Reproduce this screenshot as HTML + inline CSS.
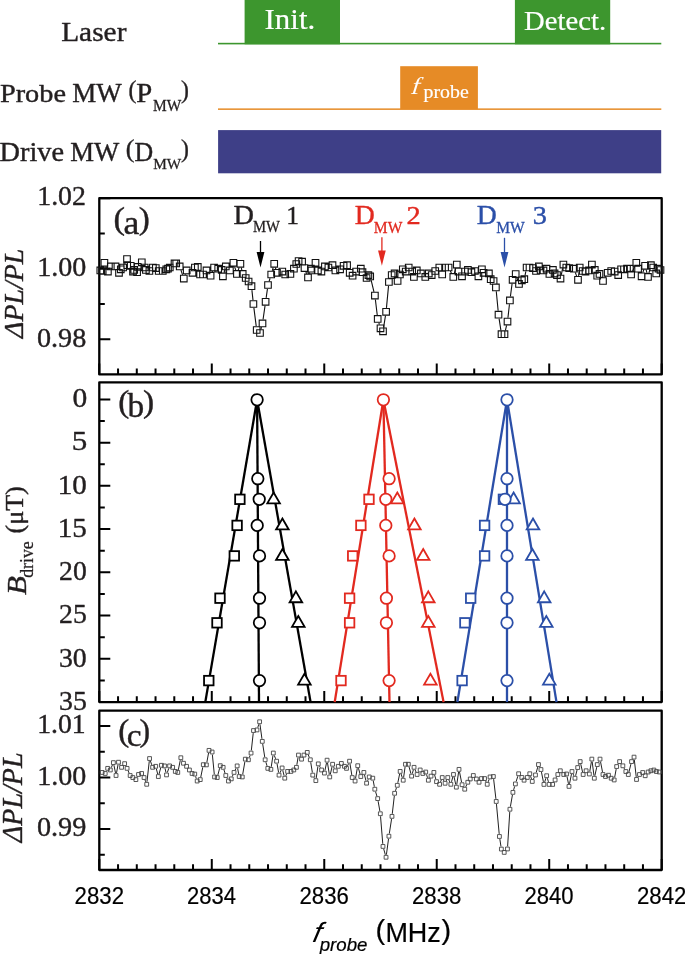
<!DOCTYPE html>
<html><head><meta charset="utf-8"><style>
html,body{margin:0;padding:0;background:#fff;}
svg{display:block;will-change:transform;}
</style></head><body>
<svg width="685" height="954" viewBox="0 0 685 954">
<rect width="685" height="954" fill="#fff"/>
<rect x="244.6" y="0" width="95.4" height="44.3" fill="#3d962e"/>
<rect x="514.9" y="0" width="95.3" height="44.3" fill="#3d962e"/>
<rect x="218" y="42.8" width="443.3" height="1.6" fill="#3d962e"/>
<rect x="400.2" y="66.2" width="77.7" height="43" fill="#e68b26"/>
<rect x="218" y="108.4" width="443.3" height="1.5" fill="#e68b26"/>
<rect x="218.1" y="130.1" width="443.1" height="43.2" fill="#3e3f87"/>
<text transform="translate(264.58,28.90) scale(1.0829,1)" font-family="Liberation Serif" font-style="normal" font-size="28.55" fill="#fff" stroke="#fff" stroke-width="0.2" stroke-linejoin="round">Init.</text>
<text transform="translate(524.07,30.40) scale(1.0220,1)" font-family="Liberation Serif" font-style="normal" font-size="28.10" fill="#fff" stroke="#fff" stroke-width="0.2" stroke-linejoin="round">Detect.</text>
<text transform="translate(409.80,94.10) scale(1.0834,1) skewX(-16)" font-family="Liberation Serif" font-style="normal" font-size="24.29" fill="#fff">f</text>
<text transform="translate(423.58,98.10) scale(1.0437,1)" font-family="Liberation Serif" font-style="normal" font-size="19.02" fill="#fff" stroke="#fff" stroke-width="0.2" stroke-linejoin="round">probe</text>
<text transform="translate(61.15,40.50) scale(1.0408,1)" font-family="Liberation Serif" font-style="normal" font-size="28.25" fill="#231f20" stroke="#231f20" stroke-width="0.4" stroke-linejoin="round">Laser</text>
<text transform="translate(-0.12,102.30) scale(1.1044,1)" font-family="Liberation Serif" font-style="normal" font-size="25.65" fill="#231f20" stroke="#231f20" stroke-width="0.4" stroke-linejoin="round">Probe</text>
<text transform="translate(72.22,102.30) scale(0.9920,1)" font-family="Liberation Serif" font-style="normal" font-size="27.18" fill="#231f20" stroke="#231f20" stroke-width="0.4" stroke-linejoin="round">MW</text>
<text transform="translate(128.56,98.44) scale(0.9500,1)" font-family="Liberation Serif" font-style="normal" font-size="25.00" fill="#231f20" stroke="#231f20" stroke-width="0.4" stroke-linejoin="round">(</text>
<text transform="translate(136.37,102.20) scale(1.0509,1)" font-family="Liberation Serif" font-style="normal" font-size="27.34" fill="#231f20" stroke="#231f20" stroke-width="0.4" stroke-linejoin="round">P</text>
<text transform="translate(152.96,110.50) scale(0.9619,1)" font-family="Liberation Serif" font-style="normal" font-size="16.04" fill="#231f20" stroke="#231f20" stroke-width="0.27999999999999997" stroke-linejoin="round">MW</text>
<text transform="translate(180.93,98.44) scale(0.9500,1)" font-family="Liberation Serif" font-style="normal" font-size="25.00" fill="#231f20" stroke="#231f20" stroke-width="0.4" stroke-linejoin="round">)</text>
<text transform="translate(-0.52,160.60) scale(1.0266,1)" font-family="Liberation Serif" font-style="normal" font-size="27.64" fill="#231f20" stroke="#231f20" stroke-width="0.4" stroke-linejoin="round">Drive</text>
<text transform="translate(70.13,160.60) scale(0.9729,1)" font-family="Liberation Serif" font-style="normal" font-size="27.49" fill="#231f20" stroke="#231f20" stroke-width="0.4" stroke-linejoin="round">MW</text>
<text transform="translate(125.85,157.25) scale(1.0435,1)" font-family="Liberation Serif" font-style="normal" font-size="25.00" fill="#231f20" stroke="#231f20" stroke-width="0.4" stroke-linejoin="round">(</text>
<text transform="translate(134.45,160.50) scale(0.9679,1)" font-family="Liberation Serif" font-style="normal" font-size="26.73" fill="#231f20" stroke="#231f20" stroke-width="0.4" stroke-linejoin="round">D</text>
<text transform="translate(153.16,169.20) scale(0.9831,1)" font-family="Liberation Serif" font-style="normal" font-size="15.58" fill="#231f20" stroke="#231f20" stroke-width="0.27999999999999997" stroke-linejoin="round">MW</text>
<text transform="translate(180.93,157.25) scale(0.9500,1)" font-family="Liberation Serif" font-style="normal" font-size="25.00" fill="#231f20" stroke="#231f20" stroke-width="0.4" stroke-linejoin="round">)</text>
<rect x="99.3" y="198.2" width="562.40" height="176.20" fill="none" stroke="#000" stroke-width="2.3" stroke-linejoin="round"/>
<path d="M99.30,374.4V363.4M118.05,374.4V368.59999999999997M136.79,374.4V368.59999999999997M155.54,374.4V368.59999999999997M174.29,374.4V368.59999999999997M193.03,374.4V368.59999999999997M211.78,374.4V363.4M230.53,374.4V368.59999999999997M249.27,374.4V368.59999999999997M268.02,374.4V368.59999999999997M286.77,374.4V368.59999999999997M305.51,374.4V368.59999999999997M324.26,374.4V363.4M343.01,374.4V368.59999999999997M361.75,374.4V368.59999999999997M380.50,374.4V368.59999999999997M399.25,374.4V368.59999999999997M417.99,374.4V368.59999999999997M436.74,374.4V363.4M455.49,374.4V368.59999999999997M474.23,374.4V368.59999999999997M492.98,374.4V368.59999999999997M511.73,374.4V368.59999999999997M530.47,374.4V368.59999999999997M549.22,374.4V363.4M567.97,374.4V368.59999999999997M586.71,374.4V368.59999999999997M605.46,374.4V368.59999999999997M624.21,374.4V368.59999999999997M642.95,374.4V368.59999999999997M661.70,374.4V363.4" stroke="#000" stroke-width="2.0" fill="none"/>
<rect x="99.3" y="382.3" width="562.40" height="319.80" fill="none" stroke="#000" stroke-width="2.3" stroke-linejoin="round"/>
<path d="M99.30,702.1V691.1M118.05,702.1V696.3000000000001M136.79,702.1V696.3000000000001M155.54,702.1V696.3000000000001M174.29,702.1V696.3000000000001M193.03,702.1V696.3000000000001M211.78,702.1V691.1M230.53,702.1V696.3000000000001M249.27,702.1V696.3000000000001M268.02,702.1V696.3000000000001M286.77,702.1V696.3000000000001M305.51,702.1V696.3000000000001M324.26,702.1V691.1M343.01,702.1V696.3000000000001M361.75,702.1V696.3000000000001M380.50,702.1V696.3000000000001M399.25,702.1V696.3000000000001M417.99,702.1V696.3000000000001M436.74,702.1V691.1M455.49,702.1V696.3000000000001M474.23,702.1V696.3000000000001M492.98,702.1V696.3000000000001M511.73,702.1V696.3000000000001M530.47,702.1V696.3000000000001M549.22,702.1V691.1M567.97,702.1V696.3000000000001M586.71,702.1V696.3000000000001M605.46,702.1V696.3000000000001M624.21,702.1V696.3000000000001M642.95,702.1V696.3000000000001M661.70,702.1V691.1" stroke="#000" stroke-width="2.0" fill="none"/>
<rect x="99.3" y="710.7" width="562.40" height="159.30" fill="none" stroke="#000" stroke-width="2.3" stroke-linejoin="round"/>
<path d="M99.30,870.0V859.0M118.05,870.0V864.2M136.79,870.0V864.2M155.54,870.0V864.2M174.29,870.0V864.2M193.03,870.0V864.2M211.78,870.0V859.0M230.53,870.0V864.2M249.27,870.0V864.2M268.02,870.0V864.2M286.77,870.0V864.2M305.51,870.0V864.2M324.26,870.0V859.0M343.01,870.0V864.2M361.75,870.0V864.2M380.50,870.0V864.2M399.25,870.0V864.2M417.99,870.0V864.2M436.74,870.0V859.0M455.49,870.0V864.2M474.23,870.0V864.2M492.98,870.0V864.2M511.73,870.0V864.2M530.47,870.0V864.2M549.22,870.0V859.0M567.97,870.0V864.2M586.71,870.0V864.2M605.46,870.0V864.2M624.21,870.0V864.2M642.95,870.0V864.2M661.70,870.0V859.0" stroke="#000" stroke-width="2.0" fill="none"/>
<path d="M99.3,198.20H110.3M99.3,233.44H104.8M99.3,268.68H110.3M99.3,303.92H104.8M99.3,339.16H110.3" stroke="#000" stroke-width="2.0" fill="none"/>
<text transform="translate(37.26,205.40) scale(1.0571,1)" font-family="Liberation Serif" font-style="normal" font-size="26.31" fill="#231f20" stroke="#231f20" stroke-width="0.4" stroke-linejoin="round">1.02</text>
<text transform="translate(37.24,276.30) scale(1.0351,1)" font-family="Liberation Serif" font-style="normal" font-size="27.07" fill="#231f20" stroke="#231f20" stroke-width="0.4" stroke-linejoin="round">1.00</text>
<text transform="translate(36.93,346.50) scale(1.0304,1)" font-family="Liberation Serif" font-style="normal" font-size="27.37" fill="#231f20" stroke="#231f20" stroke-width="0.4" stroke-linejoin="round">0.98</text>
<path d="M99.3,399.40H110.3M99.3,421.01H104.8M99.3,442.63H110.3M99.3,464.24H104.8M99.3,485.86H110.3M99.3,507.47H104.8M99.3,529.09H110.3M99.3,550.70H104.8M99.3,572.31H110.3M99.3,593.93H104.8M99.3,615.54H110.3M99.3,637.16H104.8M99.3,658.77H110.3M99.3,680.39H104.8M99.3,702.00H110.3" stroke="#000" stroke-width="2.0" fill="none"/>
<text transform="translate(72.38,407.20) scale(1.0897,1)" font-family="Liberation Serif" font-style="normal" font-size="27.07" fill="#231f20" stroke="#231f20" stroke-width="0.4" stroke-linejoin="round">0</text>
<text transform="translate(71.70,450.43) scale(1.1288,1)" font-family="Liberation Serif" font-style="normal" font-size="27.49" fill="#231f20" stroke="#231f20" stroke-width="0.4" stroke-linejoin="round">5</text>
<text transform="translate(57.75,493.66) scale(1.0737,1)" font-family="Liberation Serif" font-style="normal" font-size="27.07" fill="#231f20" stroke="#231f20" stroke-width="0.4" stroke-linejoin="round">10</text>
<text transform="translate(57.74,536.89) scale(1.0670,1)" font-family="Liberation Serif" font-style="normal" font-size="27.27" fill="#231f20" stroke="#231f20" stroke-width="0.4" stroke-linejoin="round">15</text>
<text transform="translate(59.08,580.11) scale(1.0223,1)" font-family="Liberation Serif" font-style="normal" font-size="27.07" fill="#231f20" stroke="#231f20" stroke-width="0.4" stroke-linejoin="round">20</text>
<text transform="translate(59.08,623.34) scale(1.0189,1)" font-family="Liberation Serif" font-style="normal" font-size="27.19" fill="#231f20" stroke="#231f20" stroke-width="0.4" stroke-linejoin="round">25</text>
<text transform="translate(58.97,666.57) scale(1.0267,1)" font-family="Liberation Serif" font-style="normal" font-size="27.07" fill="#231f20" stroke="#231f20" stroke-width="0.4" stroke-linejoin="round">30</text>
<text transform="translate(58.97,709.80) scale(1.0232,1)" font-family="Liberation Serif" font-style="normal" font-size="27.19" fill="#231f20" stroke="#231f20" stroke-width="0.4" stroke-linejoin="round">35</text>
<path d="M99.3,725.90H110.3M99.3,751.65H104.8M99.3,777.40H110.3M99.3,803.15H104.8M99.3,828.90H110.3M99.3,854.65H104.8" stroke="#000" stroke-width="2.0" fill="none"/>
<text transform="translate(37.27,732.70) scale(1.0331,1)" font-family="Liberation Serif" font-style="normal" font-size="26.77" fill="#231f20" stroke="#231f20" stroke-width="0.4" stroke-linejoin="round">1.01</text>
<text transform="translate(37.24,784.70) scale(1.0294,1)" font-family="Liberation Serif" font-style="normal" font-size="27.22" fill="#231f20" stroke="#231f20" stroke-width="0.4" stroke-linejoin="round">1.00</text>
<text transform="translate(36.92,836.30) scale(1.0322,1)" font-family="Liberation Serif" font-style="normal" font-size="27.37" fill="#231f20" stroke="#231f20" stroke-width="0.4" stroke-linejoin="round">0.99</text>
<text transform="translate(74.58,904.20) scale(0.9347,1)" font-family="Liberation Sans" font-style="normal" font-size="23.77" fill="#000" stroke="#000" stroke-width="0.2" stroke-linejoin="round">2832</text>
<text transform="translate(187.07,904.20) scale(0.9256,1)" font-family="Liberation Sans" font-style="normal" font-size="23.77" fill="#000" stroke="#000" stroke-width="0.2" stroke-linejoin="round">2834</text>
<text transform="translate(299.55,904.20) scale(0.9319,1)" font-family="Liberation Sans" font-style="normal" font-size="23.77" fill="#000" stroke="#000" stroke-width="0.2" stroke-linejoin="round">2836</text>
<text transform="translate(412.03,904.20) scale(0.9317,1)" font-family="Liberation Sans" font-style="normal" font-size="23.77" fill="#000" stroke="#000" stroke-width="0.2" stroke-linejoin="round">2838</text>
<text transform="translate(524.51,904.20) scale(0.9298,1)" font-family="Liberation Sans" font-style="normal" font-size="23.77" fill="#000" stroke="#000" stroke-width="0.2" stroke-linejoin="round">2840</text>
<text transform="translate(636.98,904.20) scale(0.9347,1)" font-family="Liberation Sans" font-style="normal" font-size="23.77" fill="#000" stroke="#000" stroke-width="0.2" stroke-linejoin="round">2842</text>
<text transform="translate(311.72,942.40) scale(1.0390,1) skewX(-12)" font-family="Liberation Sans" font-style="italic" font-size="27.88" fill="#000">f</text>
<text transform="translate(319.76,950.80) scale(0.9799,1)" font-family="Liberation Sans" font-style="italic" font-size="19.04" fill="#000" stroke="#000" stroke-width="0.2" stroke-linejoin="round">probe</text>
<text transform="translate(375.40,939.15) scale(1.0599,1)" font-family="Liberation Sans" font-style="normal" font-size="27.40" fill="#000" stroke="#000" stroke-width="0.2" stroke-linejoin="round">(</text>
<text transform="translate(385.39,942.00) scale(0.9619,1)" font-family="Liberation Sans" font-style="normal" font-size="28.05" fill="#000" stroke="#000" stroke-width="0.2" stroke-linejoin="round">MHz</text>
<text transform="translate(441.53,939.15) scale(1.0599,1)" font-family="Liberation Sans" font-style="normal" font-size="27.40" fill="#000" stroke="#000" stroke-width="0.2" stroke-linejoin="round">)</text>
<text transform="rotate(-90) translate(-337.88,23.30) scale(1.0447,1)" font-family="Liberation Serif" font-style="italic" font-size="26.66" fill="#231f20" stroke="#231f20" stroke-width="0.4" stroke-linejoin="round">ΔPL/PL</text>
<text transform="rotate(-90) translate(-842.17,22.40) scale(0.9847,1)" font-family="Liberation Serif" font-style="italic" font-size="28.48" fill="#231f20" stroke="#231f20" stroke-width="0.4" stroke-linejoin="round">ΔPL/PL</text>
<text transform="rotate(-90) translate(-594.99,26.40) scale(1.1050,1)" font-family="Liberation Serif" font-style="italic" font-size="27.95" fill="#231f20" stroke="#231f20" stroke-width="0.4" stroke-linejoin="round">B</text>
<text transform="rotate(-90) translate(-577.74,33.00) scale(0.9326,1)" font-family="Liberation Serif" font-style="normal" font-size="19.02" fill="#231f20" stroke="#231f20" stroke-width="0.27999999999999997" stroke-linejoin="round">drive</text>
<text transform="rotate(-90) translate(-533.55,22.51) scale(1.0416,1)" font-family="Liberation Serif" font-style="normal" font-size="25.10" fill="#231f20" stroke="#231f20" stroke-width="0.4" stroke-linejoin="round">(μT)</text>
<text transform="translate(113.38,228.89) scale(1.1036,1)" font-family="Liberation Serif" font-style="normal" font-size="31.40" fill="#231f20" stroke="#231f20" stroke-width="0.4" stroke-linejoin="round">(</text>
<text transform="translate(123.55,233.60) scale(1.0601,1)" font-family="Liberation Serif" font-style="normal" font-size="33.67" fill="#231f20" stroke="#231f20" stroke-width="0.4" stroke-linejoin="round">a</text>
<text transform="translate(138.83,228.89) scale(1.0540,1)" font-family="Liberation Serif" font-style="normal" font-size="31.40" fill="#231f20" stroke="#231f20" stroke-width="0.4" stroke-linejoin="round">)</text>
<text transform="translate(118.15,412.09) scale(1.0540,1)" font-family="Liberation Serif" font-style="normal" font-size="31.40" fill="#231f20" stroke="#231f20" stroke-width="0.4" stroke-linejoin="round">(</text>
<text transform="translate(127.50,416.60) scale(1.0191,1)" font-family="Liberation Serif" font-style="normal" font-size="32.72" fill="#231f20" stroke="#231f20" stroke-width="0.4" stroke-linejoin="round">b</text>
<text transform="translate(143.12,412.09) scale(1.0664,1)" font-family="Liberation Serif" font-style="normal" font-size="31.40" fill="#231f20" stroke="#231f20" stroke-width="0.4" stroke-linejoin="round">)</text>
<text transform="translate(118.15,741.49) scale(1.0540,1)" font-family="Liberation Serif" font-style="normal" font-size="31.40" fill="#231f20" stroke="#231f20" stroke-width="0.4" stroke-linejoin="round">(</text>
<text transform="translate(126.83,745.90) scale(1.0402,1)" font-family="Liberation Serif" font-style="normal" font-size="32.05" fill="#231f20" stroke="#231f20" stroke-width="0.4" stroke-linejoin="round">c</text>
<text transform="translate(139.57,741.49) scale(1.0168,1)" font-family="Liberation Serif" font-style="normal" font-size="31.40" fill="#231f20" stroke="#231f20" stroke-width="0.4" stroke-linejoin="round">)</text>
<text transform="translate(233.48,223.90) scale(1.0417,1)" font-family="Liberation Serif" font-style="normal" font-size="27.18" fill="#231f20" stroke="#231f20" stroke-width="0.4" stroke-linejoin="round">D</text>
<text transform="translate(252.98,232.10) scale(0.9169,1)" font-family="Liberation Serif" font-style="normal" font-size="16.04" fill="#231f20" stroke="#231f20" stroke-width="0.27999999999999997" stroke-linejoin="round">MW</text>
<text transform="translate(286.35,223.90) scale(1.0106,1)" font-family="Liberation Serif" font-style="normal" font-size="25.30" fill="#231f20" stroke="#231f20" stroke-width="0.4" stroke-linejoin="round">1</text>
<text transform="translate(354.80,224.20) scale(1.0022,1)" font-family="Liberation Serif" font-style="normal" font-size="27.64" fill="#e2291f" stroke="#e2291f" stroke-width="0.4" stroke-linejoin="round">D</text>
<text transform="translate(373.85,232.50) scale(0.9333,1)" font-family="Liberation Serif" font-style="normal" font-size="16.65" fill="#e2291f" stroke="#e2291f" stroke-width="0.27999999999999997" stroke-linejoin="round">MW</text>
<text transform="translate(406.55,224.20) scale(1.1076,1)" font-family="Liberation Serif" font-style="normal" font-size="25.68" fill="#e2291f" stroke="#e2291f" stroke-width="0.4" stroke-linejoin="round">2</text>
<text transform="translate(476.80,224.20) scale(1.0022,1)" font-family="Liberation Serif" font-style="normal" font-size="27.64" fill="#2b4fa8" stroke="#2b4fa8" stroke-width="0.4" stroke-linejoin="round">D</text>
<text transform="translate(496.15,232.50) scale(0.9366,1)" font-family="Liberation Serif" font-style="normal" font-size="16.65" fill="#2b4fa8" stroke="#2b4fa8" stroke-width="0.27999999999999997" stroke-linejoin="round">MW</text>
<text transform="translate(532.64,224.20) scale(1.1031,1)" font-family="Liberation Serif" font-style="normal" font-size="25.68" fill="#2b4fa8" stroke="#2b4fa8" stroke-width="0.4" stroke-linejoin="round">3</text>
<line x1="260.5" y1="241.0" x2="260.5" y2="253.39999999999998" stroke="#000" stroke-width="1.3"/>
<path d="M256.65,252.10 L264.35,252.10 L260.5,267.4 Z" fill="#000"/>
<line x1="381.9" y1="237.3" x2="381.9" y2="251.7" stroke="#e2291f" stroke-width="1.3"/>
<path d="M378.05,250.40 L385.75,250.40 L381.9,265.7 Z" fill="#e2291f"/>
<line x1="504.5" y1="237.8" x2="504.5" y2="253.39999999999998" stroke="#2b4fa8" stroke-width="1.3"/>
<path d="M500.65,252.10 L508.35,252.10 L504.5,267.4 Z" fill="#2b4fa8"/>
<line x1="257.1" y1="399.8" x2="205.3" y2="702.1" stroke="#000" stroke-width="2.3" />
<line x1="257.1" y1="399.8" x2="259.0" y2="702.1" stroke="#000" stroke-width="2.3" />
<line x1="257.1" y1="399.8" x2="310.6" y2="702.1" stroke="#000" stroke-width="2.3" />
<line x1="383.4" y1="399.8" x2="334.7" y2="702.1" stroke="#e2291f" stroke-width="2.3" />
<line x1="383.4" y1="399.8" x2="389.5" y2="702.1" stroke="#e2291f" stroke-width="2.3" />
<line x1="383.4" y1="399.8" x2="443.6" y2="702.1" stroke="#e2291f" stroke-width="2.3" />
<line x1="507.0" y1="399.8" x2="457.4" y2="702.1" stroke="#2b4fa8" stroke-width="2.3" />
<line x1="507.0" y1="399.8" x2="507.0" y2="702.1" stroke="#2b4fa8" stroke-width="2.3" />
<line x1="507.0" y1="399.8" x2="556.5" y2="702.1" stroke="#2b4fa8" stroke-width="2.3" />
<rect x="235.15" y="494.55" width="9.5" height="9.5" fill="#fff" stroke="#000" stroke-width="1.8"/>
<rect x="232.35" y="520.65" width="9.5" height="9.5" fill="#fff" stroke="#000" stroke-width="1.8"/>
<rect x="229.55" y="551.15" width="9.5" height="9.5" fill="#fff" stroke="#000" stroke-width="1.8"/>
<rect x="215.25" y="593.45" width="9.5" height="9.5" fill="#fff" stroke="#000" stroke-width="1.8"/>
<rect x="212.25" y="618.05" width="9.5" height="9.5" fill="#fff" stroke="#000" stroke-width="1.8"/>
<rect x="204.05" y="675.85" width="9.5" height="9.5" fill="#fff" stroke="#000" stroke-width="1.8"/>
<path d="M273.60,492.45 L279.90,503.35 L267.30,503.35 Z" fill="#fff" stroke="#000" stroke-width="1.8" stroke-linejoin="miter"/>
<path d="M282.40,518.55 L288.70,529.45 L276.10,529.45 Z" fill="#fff" stroke="#000" stroke-width="1.8" stroke-linejoin="miter"/>
<path d="M282.40,549.05 L288.70,559.95 L276.10,559.95 Z" fill="#fff" stroke="#000" stroke-width="1.8" stroke-linejoin="miter"/>
<path d="M295.90,591.35 L302.20,602.25 L289.60,602.25 Z" fill="#fff" stroke="#000" stroke-width="1.8" stroke-linejoin="miter"/>
<path d="M298.30,615.95 L304.60,626.85 L292.00,626.85 Z" fill="#fff" stroke="#000" stroke-width="1.8" stroke-linejoin="miter"/>
<path d="M304.40,673.75 L310.70,684.65 L298.10,684.65 Z" fill="#fff" stroke="#000" stroke-width="1.8" stroke-linejoin="miter"/>
<circle cx="257.1" cy="399.8" r="5.75" fill="#fff" stroke="#000" stroke-width="1.75"/>
<circle cx="257.8" cy="478.7" r="5.75" fill="#fff" stroke="#000" stroke-width="1.75"/>
<circle cx="259.2" cy="499.3" r="5.75" fill="#fff" stroke="#000" stroke-width="1.75"/>
<circle cx="257.2" cy="525.4" r="5.75" fill="#fff" stroke="#000" stroke-width="1.75"/>
<circle cx="259.5" cy="555.9" r="5.75" fill="#fff" stroke="#000" stroke-width="1.75"/>
<circle cx="259.5" cy="598.2" r="5.75" fill="#fff" stroke="#000" stroke-width="1.75"/>
<circle cx="259.5" cy="622.8" r="5.75" fill="#fff" stroke="#000" stroke-width="1.75"/>
<circle cx="259.5" cy="680.6" r="5.75" fill="#fff" stroke="#000" stroke-width="1.75"/>
<rect x="364.25" y="494.55" width="9.5" height="9.5" fill="#fff" stroke="#e2291f" stroke-width="1.8"/>
<rect x="356.15" y="520.65" width="9.5" height="9.5" fill="#fff" stroke="#e2291f" stroke-width="1.8"/>
<rect x="347.95" y="551.15" width="9.5" height="9.5" fill="#fff" stroke="#e2291f" stroke-width="1.8"/>
<rect x="344.85" y="593.45" width="9.5" height="9.5" fill="#fff" stroke="#e2291f" stroke-width="1.8"/>
<rect x="344.85" y="618.05" width="9.5" height="9.5" fill="#fff" stroke="#e2291f" stroke-width="1.8"/>
<rect x="336.25" y="675.85" width="9.5" height="9.5" fill="#fff" stroke="#e2291f" stroke-width="1.8"/>
<path d="M397.30,492.45 L403.60,503.35 L391.00,503.35 Z" fill="#fff" stroke="#e2291f" stroke-width="1.8" stroke-linejoin="miter"/>
<path d="M414.40,518.55 L420.70,529.45 L408.10,529.45 Z" fill="#fff" stroke="#e2291f" stroke-width="1.8" stroke-linejoin="miter"/>
<path d="M423.20,549.05 L429.50,559.95 L416.90,559.95 Z" fill="#fff" stroke="#e2291f" stroke-width="1.8" stroke-linejoin="miter"/>
<path d="M428.30,591.35 L434.60,602.25 L422.00,602.25 Z" fill="#fff" stroke="#e2291f" stroke-width="1.8" stroke-linejoin="miter"/>
<path d="M428.30,615.95 L434.60,626.85 L422.00,626.85 Z" fill="#fff" stroke="#e2291f" stroke-width="1.8" stroke-linejoin="miter"/>
<path d="M430.40,673.75 L436.70,684.65 L424.10,684.65 Z" fill="#fff" stroke="#e2291f" stroke-width="1.8" stroke-linejoin="miter"/>
<circle cx="383.4" cy="399.8" r="5.75" fill="#fff" stroke="#e2291f" stroke-width="1.75"/>
<circle cx="389.1" cy="478.7" r="5.75" fill="#fff" stroke="#e2291f" stroke-width="1.75"/>
<circle cx="385.8" cy="499.3" r="5.75" fill="#fff" stroke="#e2291f" stroke-width="1.75"/>
<circle cx="385.8" cy="525.4" r="5.75" fill="#fff" stroke="#e2291f" stroke-width="1.75"/>
<circle cx="389.1" cy="555.9" r="5.75" fill="#fff" stroke="#e2291f" stroke-width="1.75"/>
<circle cx="386.4" cy="598.2" r="5.75" fill="#fff" stroke="#e2291f" stroke-width="1.75"/>
<circle cx="386.4" cy="622.8" r="5.75" fill="#fff" stroke="#e2291f" stroke-width="1.75"/>
<circle cx="389.1" cy="680.6" r="5.75" fill="#fff" stroke="#e2291f" stroke-width="1.75"/>
<rect x="498.65" y="494.55" width="9.5" height="9.5" fill="#fff" stroke="#2b4fa8" stroke-width="1.8"/>
<rect x="479.85" y="520.65" width="9.5" height="9.5" fill="#fff" stroke="#2b4fa8" stroke-width="1.8"/>
<rect x="479.85" y="551.15" width="9.5" height="9.5" fill="#fff" stroke="#2b4fa8" stroke-width="1.8"/>
<rect x="465.95" y="593.45" width="9.5" height="9.5" fill="#fff" stroke="#2b4fa8" stroke-width="1.8"/>
<rect x="460.15" y="618.05" width="9.5" height="9.5" fill="#fff" stroke="#2b4fa8" stroke-width="1.8"/>
<rect x="457.35" y="675.85" width="9.5" height="9.5" fill="#fff" stroke="#2b4fa8" stroke-width="1.8"/>
<path d="M513.60,492.45 L519.90,503.35 L507.30,503.35 Z" fill="#fff" stroke="#2b4fa8" stroke-width="1.8" stroke-linejoin="miter"/>
<path d="M533.00,518.55 L539.30,529.45 L526.70,529.45 Z" fill="#fff" stroke="#2b4fa8" stroke-width="1.8" stroke-linejoin="miter"/>
<path d="M532.40,549.05 L538.70,559.95 L526.10,559.95 Z" fill="#fff" stroke="#2b4fa8" stroke-width="1.8" stroke-linejoin="miter"/>
<path d="M544.20,591.35 L550.50,602.25 L537.90,602.25 Z" fill="#fff" stroke="#2b4fa8" stroke-width="1.8" stroke-linejoin="miter"/>
<path d="M546.30,615.95 L552.60,626.85 L540.00,626.85 Z" fill="#fff" stroke="#2b4fa8" stroke-width="1.8" stroke-linejoin="miter"/>
<path d="M549.30,673.75 L555.60,684.65 L543.00,684.65 Z" fill="#fff" stroke="#2b4fa8" stroke-width="1.8" stroke-linejoin="miter"/>
<circle cx="507.0" cy="399.8" r="5.75" fill="#fff" stroke="#2b4fa8" stroke-width="1.75"/>
<circle cx="507.0" cy="478.7" r="5.75" fill="#fff" stroke="#2b4fa8" stroke-width="1.75"/>
<circle cx="505.0" cy="499.3" r="5.75" fill="#fff" stroke="#2b4fa8" stroke-width="1.75"/>
<circle cx="507.0" cy="525.4" r="5.75" fill="#fff" stroke="#2b4fa8" stroke-width="1.75"/>
<circle cx="507.0" cy="555.9" r="5.75" fill="#fff" stroke="#2b4fa8" stroke-width="1.75"/>
<circle cx="507.0" cy="598.2" r="5.75" fill="#fff" stroke="#2b4fa8" stroke-width="1.75"/>
<circle cx="507.0" cy="622.8" r="5.75" fill="#fff" stroke="#2b4fa8" stroke-width="1.75"/>
<circle cx="507.0" cy="680.6" r="5.75" fill="#fff" stroke="#2b4fa8" stroke-width="1.75"/>
<path d="M111.33,767.59L112.39,765.03M113.92,765.18L115.53,772.96M116.52,772.95L118.03,764.78M119.84,764.45L120.23,765.10M128.11,770.75L129.13,773.12M137.07,777.29L137.33,776.79M145.00,779.97L145.75,781.88M146.99,781.71L149.28,761.13M150.42,761.00L151.78,764.88M156.35,768.83L157.70,774.01M159.04,774.02L160.74,767.80M165.06,768.44L165.95,772.36M167.37,772.43L168.76,768.36M178.30,769.90L180.31,760.27M181.96,760.07L182.37,760.90M195.60,776.53L196.32,778.58M200.78,777.05L202.79,767.22M206.85,762.32L208.57,752.93M212.36,754.59L214.30,774.35M217.87,775.04L219.63,768.22M223.95,769.81L225.00,773.04M226.93,777.85L227.33,778.68M232.30,776.49L233.01,774.83M235.15,770.10L236.03,768.25M237.64,768.46L238.71,773.98M242.70,774.38L244.89,761.72M249.35,757.35L250.10,755.45M251.33,750.44L253.22,733.13M257.78,727.46L258.83,724.23M259.98,724.34L261.94,738.80M262.69,743.95L264.75,757.20M265.92,762.26L267.04,765.87M271.26,766.81L272.94,755.60M274.29,755.44L275.63,758.79M277.05,763.76L278.60,772.54M280.07,772.71L281.09,770.34M282.77,770.46L284.12,775.65M285.79,775.77L286.62,773.81M296.85,764.77L298.04,757.64M308.25,754.81L309.32,757.37M310.73,762.34L312.36,772.53M314.03,777.37L314.57,778.35M316.21,778.05L317.91,766.43M319.51,766.15L320.34,767.70M324.95,770.51L326.55,762.73M327.48,762.75L329.33,774.37M330.31,774.40L332.02,766.80M333.57,766.68L334.27,768.40M347.52,765.97L348.53,763.59M349.98,763.77L351.80,774.99M355.52,778.47L357.29,768.26M358.44,768.20L360.09,774.03M364.50,774.96L365.94,780.65M367.60,780.78L368.22,779.33M373.24,780.72L374.34,786.65M375.57,791.69L376.91,796.12M378.12,801.16L379.88,811.17M380.54,816.32L382.77,843.84M383.69,848.93L385.34,854.76M386.40,854.68L388.56,838.78M389.31,833.64L391.58,818.95M392.27,813.80L394.34,795.87M395.46,790.82L396.47,787.79M397.82,782.77L399.63,773.97M401.01,773.88L402.36,777.75M403.58,777.63L405.10,766.84M409.02,766.77L410.91,773.62M412.30,773.62L413.35,769.84M415.07,769.72L416.09,772.10M426.50,774.51L427.55,777.74M434.60,774.94L435.81,779.14M440.55,781.88L441.30,779.97M443.42,779.88L443.95,780.95M446.21,780.92L446.68,779.91M448.85,779.92L449.76,781.93M451.52,781.79L452.81,777.00M454.07,777.02L455.78,784.62M456.74,784.59L458.63,771.95M459.52,771.93L461.57,782.16M465.78,786.82L466.75,784.63M485.65,780.93L486.12,781.94M488.16,781.87L489.13,779.36M493.64,779.11L495.91,798.88M496.45,804.05L499.19,833.89M499.83,839.05L500.98,846.51M507.61,846.36L509.77,811.84M510.38,806.68L512.45,794.93M513.64,789.87L514.65,786.42M516.17,781.45L517.83,776.23M530.58,776.23L531.47,778.97M533.43,779.12L534.33,777.32M536.21,772.49L537.76,767.07M541.46,772.08L543.42,781.87M544.71,781.94L545.88,778.22M547.38,778.24L548.43,781.92M556.26,777.63L556.67,776.82M567.03,776.55L568.49,783.86M569.51,783.86L571.47,774.07M573.03,773.89L573.90,775.84M575.60,775.70L577.04,770.07M578.69,765.15L579.17,763.99M580.75,764.12L582.56,771.96M589.78,771.44L591.41,761.67M592.17,761.69L593.98,775.64M594.87,775.68L596.74,767.11M598.46,762.24L598.86,761.43M600.52,761.66L602.51,771.94M614.65,777.40L616.18,769.11M617.99,764.32L618.29,763.82M624.06,768.11L624.64,769.21M628.95,771.97L630.92,764.11M634.32,759.71L636.22,776.88M637.85,777.23L638.15,776.73" fill="none" stroke="#222" stroke-width="1.0"/>
<path d="M100.25,770.54h3.8v3.8h-3.8zM103.32,771.57h3.8v3.8h-3.8zM105.77,766.46h3.8v3.8h-3.8zM108.43,768.09h3.8v3.8h-3.8zM111.49,760.73h3.8v3.8h-3.8zM114.15,773.61h3.8v3.8h-3.8zM116.60,760.32h3.8v3.8h-3.8zM119.67,765.43h3.8v3.8h-3.8zM122.73,761.76h3.8v3.8h-3.8zM125.19,766.46h3.8v3.8h-3.8zM128.25,773.61h3.8v3.8h-3.8zM130.91,775.65h3.8v3.8h-3.8zM133.97,777.70h3.8v3.8h-3.8zM136.63,772.59h3.8v3.8h-3.8zM139.70,771.57h3.8v3.8h-3.8zM142.15,775.65h3.8v3.8h-3.8zM144.81,782.40h3.8v3.8h-3.8zM147.67,756.65h3.8v3.8h-3.8zM150.73,765.43h3.8v3.8h-3.8zM153.80,764.41h3.8v3.8h-3.8zM156.46,774.63h3.8v3.8h-3.8zM159.52,763.39h3.8v3.8h-3.8zM162.59,764.00h3.8v3.8h-3.8zM164.63,773.00h3.8v3.8h-3.8zM167.70,764.00h3.8v3.8h-3.8zM170.76,765.43h3.8v3.8h-3.8zM173.42,769.52h3.8v3.8h-3.8zM175.87,770.54h3.8v3.8h-3.8zM178.94,755.83h3.8v3.8h-3.8zM181.59,761.35h3.8v3.8h-3.8zM184.66,764.41h3.8v3.8h-3.8zM187.52,768.09h3.8v3.8h-3.8zM190.18,771.57h3.8v3.8h-3.8zM192.83,772.18h3.8v3.8h-3.8zM195.29,779.13h3.8v3.8h-3.8zM198.35,777.70h3.8v3.8h-3.8zM201.42,762.78h3.8v3.8h-3.8zM204.48,762.98h3.8v3.8h-3.8zM207.14,748.47h3.8v3.8h-3.8zM210.21,750.11h3.8v3.8h-3.8zM212.66,775.04h3.8v3.8h-3.8zM215.32,775.65h3.8v3.8h-3.8zM218.38,763.80h3.8v3.8h-3.8zM221.24,765.43h3.8v3.8h-3.8zM223.90,773.61h3.8v3.8h-3.8zM226.56,779.13h3.8v3.8h-3.8zM229.37,776.98h3.8v3.8h-3.8zM232.13,770.54h3.8v3.8h-3.8zM235.25,764.00h3.8v3.8h-3.8zM237.30,774.63h3.8v3.8h-3.8zM240.36,775.04h3.8v3.8h-3.8zM243.43,757.26h3.8v3.8h-3.8zM246.49,757.87h3.8v3.8h-3.8zM249.15,751.13h3.8v3.8h-3.8zM251.60,728.65h3.8v3.8h-3.8zM255.08,728.03h3.8v3.8h-3.8zM257.73,719.86h3.8v3.8h-3.8zM260.39,739.48h3.8v3.8h-3.8zM263.25,757.87h3.8v3.8h-3.8zM265.91,766.46h3.8v3.8h-3.8zM268.97,767.48h3.8v3.8h-3.8zM271.43,751.13h3.8v3.8h-3.8zM274.70,759.30h3.8v3.8h-3.8zM277.15,773.20h3.8v3.8h-3.8zM280.22,766.05h3.8v3.8h-3.8zM282.87,776.27h3.8v3.8h-3.8zM285.73,769.52h3.8v3.8h-3.8zM289.00,769.52h3.8v3.8h-3.8zM291.86,768.09h3.8v3.8h-3.8zM294.52,765.43h3.8v3.8h-3.8zM296.57,753.17h3.8v3.8h-3.8zM299.63,757.26h3.8v3.8h-3.8zM302.08,753.17h3.8v3.8h-3.8zM305.35,750.51h3.8v3.8h-3.8zM308.42,757.87h3.8v3.8h-3.8zM310.87,773.20h3.8v3.8h-3.8zM313.94,778.72h3.8v3.8h-3.8zM316.39,761.96h3.8v3.8h-3.8zM319.66,768.09h3.8v3.8h-3.8zM322.52,771.16h3.8v3.8h-3.8zM325.18,758.28h3.8v3.8h-3.8zM327.83,775.04h3.8v3.8h-3.8zM330.70,762.37h3.8v3.8h-3.8zM333.35,768.91h3.8v3.8h-3.8zM336.42,764.41h3.8v3.8h-3.8zM339.48,761.55h3.8v3.8h-3.8zM342.55,764.41h3.8v3.8h-3.8zM344.59,766.46h3.8v3.8h-3.8zM347.66,759.30h3.8v3.8h-3.8zM350.32,775.65h3.8v3.8h-3.8zM353.18,779.13h3.8v3.8h-3.8zM355.83,763.80h3.8v3.8h-3.8zM358.90,774.63h3.8v3.8h-3.8zM361.96,770.54h3.8v3.8h-3.8zM364.68,781.27h3.8v3.8h-3.8zM367.34,775.04h3.8v3.8h-3.8zM370.87,776.27h3.8v3.8h-3.8zM372.91,787.30h3.8v3.8h-3.8zM375.77,796.70h3.8v3.8h-3.8zM378.43,811.83h3.8v3.8h-3.8zM381.08,844.53h3.8v3.8h-3.8zM384.15,855.36h3.8v3.8h-3.8zM387.01,834.31h3.8v3.8h-3.8zM390.08,814.48h3.8v3.8h-3.8zM392.73,791.39h3.8v3.8h-3.8zM395.39,783.42h3.8v3.8h-3.8zM398.25,769.52h3.8v3.8h-3.8zM401.32,778.31h3.8v3.8h-3.8zM403.57,762.37h3.8v3.8h-3.8zM406.43,762.37h3.8v3.8h-3.8zM409.70,774.22h3.8v3.8h-3.8zM412.15,765.43h3.8v3.8h-3.8zM415.22,772.59h3.8v3.8h-3.8zM418.28,768.09h3.8v3.8h-3.8zM420.94,771.57h3.8v3.8h-3.8zM423.80,770.13h3.8v3.8h-3.8zM426.46,778.31h3.8v3.8h-3.8zM429.11,774.22h3.8v3.8h-3.8zM431.97,770.54h3.8v3.8h-3.8zM434.63,779.74h3.8v3.8h-3.8zM437.70,782.40h3.8v3.8h-3.8zM440.35,775.65h3.8v3.8h-3.8zM443.21,781.38h3.8v3.8h-3.8zM445.87,775.65h3.8v3.8h-3.8zM448.94,782.40h3.8v3.8h-3.8zM451.59,772.59h3.8v3.8h-3.8zM454.45,785.26h3.8v3.8h-3.8zM457.11,767.48h3.8v3.8h-3.8zM460.18,782.81h3.8v3.8h-3.8zM462.83,787.30h3.8v3.8h-3.8zM465.90,780.35h3.8v3.8h-3.8zM468.35,777.08h3.8v3.8h-3.8zM471.42,773.61h3.8v3.8h-3.8zM474.48,777.08h3.8v3.8h-3.8zM477.14,780.35h3.8v3.8h-3.8zM479.59,776.67h3.8v3.8h-3.8zM482.66,776.67h3.8v3.8h-3.8zM485.32,782.40h3.8v3.8h-3.8zM488.18,775.04h3.8v3.8h-3.8zM491.45,774.63h3.8v3.8h-3.8zM494.31,799.56h3.8v3.8h-3.8zM497.53,834.58h3.8v3.8h-3.8zM499.48,847.18h3.8v3.8h-3.8zM502.32,850.51h3.8v3.8h-3.8zM505.55,847.06h3.8v3.8h-3.8zM508.03,807.34h3.8v3.8h-3.8zM511.01,790.47h3.8v3.8h-3.8zM513.49,782.03h3.8v3.8h-3.8zM516.72,771.85h3.8v3.8h-3.8zM519.94,775.57h3.8v3.8h-3.8zM522.18,778.30h3.8v3.8h-3.8zM525.40,775.57h3.8v3.8h-3.8zM527.88,771.85h3.8v3.8h-3.8zM530.37,779.55h3.8v3.8h-3.8zM533.59,773.09h3.8v3.8h-3.8zM536.57,762.67h3.8v3.8h-3.8zM539.05,767.63h3.8v3.8h-3.8zM542.03,782.52h3.8v3.8h-3.8zM544.76,773.84h3.8v3.8h-3.8zM547.24,782.52h3.8v3.8h-3.8zM550.72,782.52h3.8v3.8h-3.8zM553.20,778.06h3.8v3.8h-3.8zM555.93,772.60h3.8v3.8h-3.8zM558.41,768.87h3.8v3.8h-3.8zM561.89,772.60h3.8v3.8h-3.8zM564.62,772.10h3.8v3.8h-3.8zM567.10,784.51h3.8v3.8h-3.8zM570.08,769.62h3.8v3.8h-3.8zM573.06,776.32h3.8v3.8h-3.8zM575.79,765.65h3.8v3.8h-3.8zM578.27,759.69h3.8v3.8h-3.8zM581.25,772.60h3.8v3.8h-3.8zM584.23,768.87h3.8v3.8h-3.8zM587.45,772.10h3.8v3.8h-3.8zM589.93,757.21h3.8v3.8h-3.8zM592.42,776.32h3.8v3.8h-3.8zM595.39,762.67h3.8v3.8h-3.8zM598.12,757.21h3.8v3.8h-3.8zM601.10,772.60h3.8v3.8h-3.8zM603.59,774.58h3.8v3.8h-3.8zM606.56,773.34h3.8v3.8h-3.8zM609.29,776.32h3.8v3.8h-3.8zM612.27,778.06h3.8v3.8h-3.8zM614.75,764.65h3.8v3.8h-3.8zM617.73,759.69h3.8v3.8h-3.8zM620.96,763.91h3.8v3.8h-3.8zM623.94,769.62h3.8v3.8h-3.8zM626.42,772.60h3.8v3.8h-3.8zM629.65,759.69h3.8v3.8h-3.8zM632.13,755.22h3.8v3.8h-3.8zM634.61,777.56h3.8v3.8h-3.8zM637.59,772.60h3.8v3.8h-3.8zM640.82,770.61h3.8v3.8h-3.8zM643.30,773.84h3.8v3.8h-3.8zM646.28,770.11h3.8v3.8h-3.8zM649.01,768.87h3.8v3.8h-3.8zM651.98,768.13h3.8v3.8h-3.8zM654.47,769.62h3.8v3.8h-3.8zM657.44,770.11h3.8v3.8h-3.8z" fill="none" stroke="#444" stroke-width="0.9"/>
<path d="M103.49,267.18L103.61,266.62M105.84,266.42L106.46,267.98M124.74,263.96L125.36,262.64M180.94,270.10L182.56,274.90M185.10,274.92L185.40,274.08M212.13,272.11L212.57,271.09M224.00,272.56L224.70,270.14M231.53,266.86L231.77,266.34M234.57,266.52L235.73,270.18M238.18,270.21L239.12,267.49M241.27,267.60L241.83,270.10M251.91,290.08L252.99,300.12M253.89,307.87L256.21,326.13M260.98,329.23L261.52,327.17M263.05,319.54L265.05,305.66M266.15,297.94L267.45,288.86M269.14,281.27L270.06,278.23M272.25,270.74L273.15,267.56M275.36,267.52L275.84,269.08M305.87,271.75L306.63,273.75M309.23,273.70L309.67,272.40M313.32,266.95L313.68,266.25M371.13,280.19L373.97,291.81M375.37,299.47L377.23,315.03M378.81,322.64L379.39,324.56M383.61,327.45L385.49,315.65M386.46,307.92L388.54,285.88M450.34,270.99L451.56,273.41M454.37,273.15L455.73,268.35M496.27,291.28L498.13,310.82M499.09,318.55L500.91,330.35M505.40,330.41L506.60,325.39M507.94,317.72L509.46,304.28M510.41,296.53L512.09,283.67M516.94,277.80L517.76,280.20M525.05,275.37L525.85,271.33M561.29,274.78L562.61,268.42M575.25,272.36L576.65,276.14M578.53,275.94L579.17,271.36M604.94,277.62L605.76,276.18M632.68,270.94L634.72,266.36M639.73,272.24L639.97,272.76M642.83,272.60L643.87,269.50M646.09,269.57L647.01,273.13M648.94,273.11L649.96,268.99" fill="none" stroke="#111" stroke-width="1.1"/>
<path d="M97.00,267.10h6.6v6.6h-6.6zM99.40,267.70h6.6v6.6h-6.6zM101.10,259.50h6.6v6.6h-6.6zM104.60,268.30h6.6v6.6h-6.6zM107.50,263.10h6.6v6.6h-6.6zM112.20,263.10h6.6v6.6h-6.6zM115.70,269.50h6.6v6.6h-6.6zM117.50,266.00h6.6v6.6h-6.6zM119.80,264.20h6.6v6.6h-6.6zM123.70,255.80h6.6v6.6h-6.6zM123.90,261.90h6.6v6.6h-6.6zM127.40,262.50h6.6v6.6h-6.6zM129.70,268.30h6.6v6.6h-6.6zM130.90,266.60h6.6v6.6h-6.6zM133.80,268.90h6.6v6.6h-6.6zM134.40,263.60h6.6v6.6h-6.6zM138.50,259.00h6.6v6.6h-6.6zM141.40,264.20h6.6v6.6h-6.6zM142.60,266.60h6.6v6.6h-6.6zM146.10,267.70h6.6v6.6h-6.6zM149.60,264.20h6.6v6.6h-6.6zM152.50,264.80h6.6v6.6h-6.6zM155.40,267.70h6.6v6.6h-6.6zM159.50,267.70h6.6v6.6h-6.6zM163.00,266.00h6.6v6.6h-6.6zM164.70,265.40h6.6v6.6h-6.6zM166.50,264.20h6.6v6.6h-6.6zM171.20,260.10h6.6v6.6h-6.6zM172.90,260.10h6.6v6.6h-6.6zM176.40,263.10h6.6v6.6h-6.6zM180.50,275.30h6.6v6.6h-6.6zM183.40,267.10h6.6v6.6h-6.6zM189.20,269.50h6.6v6.6h-6.6zM191.60,264.20h6.6v6.6h-6.6zM194.50,263.60h6.6v6.6h-6.6zM196.80,271.20h6.6v6.6h-6.6zM199.70,271.20h6.6v6.6h-6.6zM203.20,267.10h6.6v6.6h-6.6zM207.30,272.40h6.6v6.6h-6.6zM210.80,264.20h6.6v6.6h-6.6zM214.90,265.40h6.6v6.6h-6.6zM218.40,266.60h6.6v6.6h-6.6zM219.60,273.00h6.6v6.6h-6.6zM222.50,263.10h6.6v6.6h-6.6zM226.60,267.10h6.6v6.6h-6.6zM230.10,259.50h6.6v6.6h-6.6zM233.60,270.60h6.6v6.6h-6.6zM237.10,260.50h6.6v6.6h-6.6zM239.40,270.60h6.6v6.6h-6.6zM242.40,274.70h6.6v6.6h-6.6zM245.30,278.20h6.6v6.6h-6.6zM248.20,282.90h6.6v6.6h-6.6zM250.10,300.70h6.6v6.6h-6.6zM253.40,326.70h6.6v6.6h-6.6zM256.70,329.70h6.6v6.6h-6.6zM259.20,320.10h6.6v6.6h-6.6zM262.30,298.50h6.6v6.6h-6.6zM264.70,281.70h6.6v6.6h-6.6zM267.90,271.20h6.6v6.6h-6.6zM270.90,260.50h6.6v6.6h-6.6zM273.70,269.50h6.6v6.6h-6.6zM279.00,268.30h6.6v6.6h-6.6zM281.90,271.20h6.6v6.6h-6.6zM287.10,270.60h6.6v6.6h-6.6zM290.60,265.40h6.6v6.6h-6.6zM293.00,260.70h6.6v6.6h-6.6zM295.30,257.80h6.6v6.6h-6.6zM298.80,258.40h6.6v6.6h-6.6zM301.20,264.80h6.6v6.6h-6.6zM304.70,274.10h6.6v6.6h-6.6zM307.60,265.40h6.6v6.6h-6.6zM308.20,267.10h6.6v6.6h-6.6zM312.20,259.50h6.6v6.6h-6.6zM314.60,267.10h6.6v6.6h-6.6zM318.10,268.30h6.6v6.6h-6.6zM321.60,263.10h6.6v6.6h-6.6zM325.10,264.20h6.6v6.6h-6.6zM329.20,261.90h6.6v6.6h-6.6zM332.10,267.10h6.6v6.6h-6.6zM336.80,266.00h6.6v6.6h-6.6zM340.30,262.50h6.6v6.6h-6.6zM343.80,261.90h6.6v6.6h-6.6zM346.40,269.50h6.6v6.6h-6.6zM349.30,272.40h6.6v6.6h-6.6zM352.80,268.30h6.6v6.6h-6.6zM357.50,265.40h6.6v6.6h-6.6zM359.20,268.90h6.6v6.6h-6.6zM363.30,274.70h6.6v6.6h-6.6zM365.10,271.80h6.6v6.6h-6.6zM366.90,273.10h6.6v6.6h-6.6zM371.60,292.30h6.6v6.6h-6.6zM374.40,315.60h6.6v6.6h-6.6zM377.20,325.00h6.6v6.6h-6.6zM379.70,328.00h6.6v6.6h-6.6zM382.80,308.50h6.6v6.6h-6.6zM385.60,278.70h6.6v6.6h-6.6zM388.40,271.80h6.6v6.6h-6.6zM391.30,270.10h6.6v6.6h-6.6zM394.30,277.70h6.6v6.6h-6.6zM396.60,271.20h6.6v6.6h-6.6zM399.50,266.00h6.6v6.6h-6.6zM402.40,268.30h6.6v6.6h-6.6zM405.40,264.20h6.6v6.6h-6.6zM408.90,268.30h6.6v6.6h-6.6zM410.60,273.60h6.6v6.6h-6.6zM413.50,267.10h6.6v6.6h-6.6zM417.60,270.10h6.6v6.6h-6.6zM422.00,273.60h6.6v6.6h-6.6zM425.50,270.10h6.6v6.6h-6.6zM428.40,271.80h6.6v6.6h-6.6zM431.90,267.70h6.6v6.6h-6.6zM436.00,264.20h6.6v6.6h-6.6zM438.90,271.20h6.6v6.6h-6.6zM441.80,264.20h6.6v6.6h-6.6zM445.30,264.20h6.6v6.6h-6.6zM450.00,273.60h6.6v6.6h-6.6zM453.50,261.30h6.6v6.6h-6.6zM455.20,268.30h6.6v6.6h-6.6zM458.70,273.00h6.6v6.6h-6.6zM461.70,268.30h6.6v6.6h-6.6zM464.60,266.60h6.6v6.6h-6.6zM468.10,268.90h6.6v6.6h-6.6zM471.60,267.70h6.6v6.6h-6.6zM475.10,273.00h6.6v6.6h-6.6zM478.60,266.00h6.6v6.6h-6.6zM480.30,269.50h6.6v6.6h-6.6zM485.60,270.10h6.6v6.6h-6.6zM487.40,275.90h6.6v6.6h-6.6zM490.30,277.70h6.6v6.6h-6.6zM492.60,284.10h6.6v6.6h-6.6zM495.20,311.40h6.6v6.6h-6.6zM498.20,330.90h6.6v6.6h-6.6zM501.20,330.90h6.6v6.6h-6.6zM504.20,318.30h6.6v6.6h-6.6zM506.60,297.10h6.6v6.6h-6.6zM509.30,276.50h6.6v6.6h-6.6zM512.40,270.80h6.6v6.6h-6.6zM515.70,280.60h6.6v6.6h-6.6zM518.60,277.00h6.6v6.6h-6.6zM521.00,275.90h6.6v6.6h-6.6zM523.30,264.20h6.6v6.6h-6.6zM526.20,264.20h6.6v6.6h-6.6zM529.70,264.80h6.6v6.6h-6.6zM532.70,267.70h6.6v6.6h-6.6zM535.60,263.10h6.6v6.6h-6.6zM537.30,267.10h6.6v6.6h-6.6zM540.20,267.10h6.6v6.6h-6.6zM543.20,265.40h6.6v6.6h-6.6zM546.10,270.60h6.6v6.6h-6.6zM549.60,266.60h6.6v6.6h-6.6zM551.30,270.10h6.6v6.6h-6.6zM553.70,271.80h6.6v6.6h-6.6zM557.20,275.30h6.6v6.6h-6.6zM560.10,261.30h6.6v6.6h-6.6zM563.00,264.20h6.6v6.6h-6.6zM565.90,264.80h6.6v6.6h-6.6zM570.60,265.40h6.6v6.6h-6.6zM574.70,276.50h6.6v6.6h-6.6zM576.40,264.20h6.6v6.6h-6.6zM579.40,267.70h6.6v6.6h-6.6zM582.20,268.30h6.6v6.6h-6.6zM585.70,267.10h6.6v6.6h-6.6zM588.60,261.30h6.6v6.6h-6.6zM591.50,266.60h6.6v6.6h-6.6zM593.90,272.40h6.6v6.6h-6.6zM596.20,270.60h6.6v6.6h-6.6zM599.70,277.70h6.6v6.6h-6.6zM604.40,269.50h6.6v6.6h-6.6zM607.90,267.70h6.6v6.6h-6.6zM611.40,268.30h6.6v6.6h-6.6zM614.90,271.80h6.6v6.6h-6.6zM617.80,266.00h6.6v6.6h-6.6zM620.70,266.00h6.6v6.6h-6.6zM623.70,265.40h6.6v6.6h-6.6zM626.60,265.40h6.6v6.6h-6.6zM627.80,271.20h6.6v6.6h-6.6zM633.00,259.50h6.6v6.6h-6.6zM634.80,265.40h6.6v6.6h-6.6zM638.30,273.00h6.6v6.6h-6.6zM641.80,262.50h6.6v6.6h-6.6zM644.70,273.60h6.6v6.6h-6.6zM647.60,261.90h6.6v6.6h-6.6zM649.90,264.20h6.6v6.6h-6.6zM652.90,270.10h6.6v6.6h-6.6zM655.20,265.40h6.6v6.6h-6.6zM657.20,266.70h6.6v6.6h-6.6z" fill="none" stroke="#111" stroke-width="1.1"/>
</svg>
</body></html>
